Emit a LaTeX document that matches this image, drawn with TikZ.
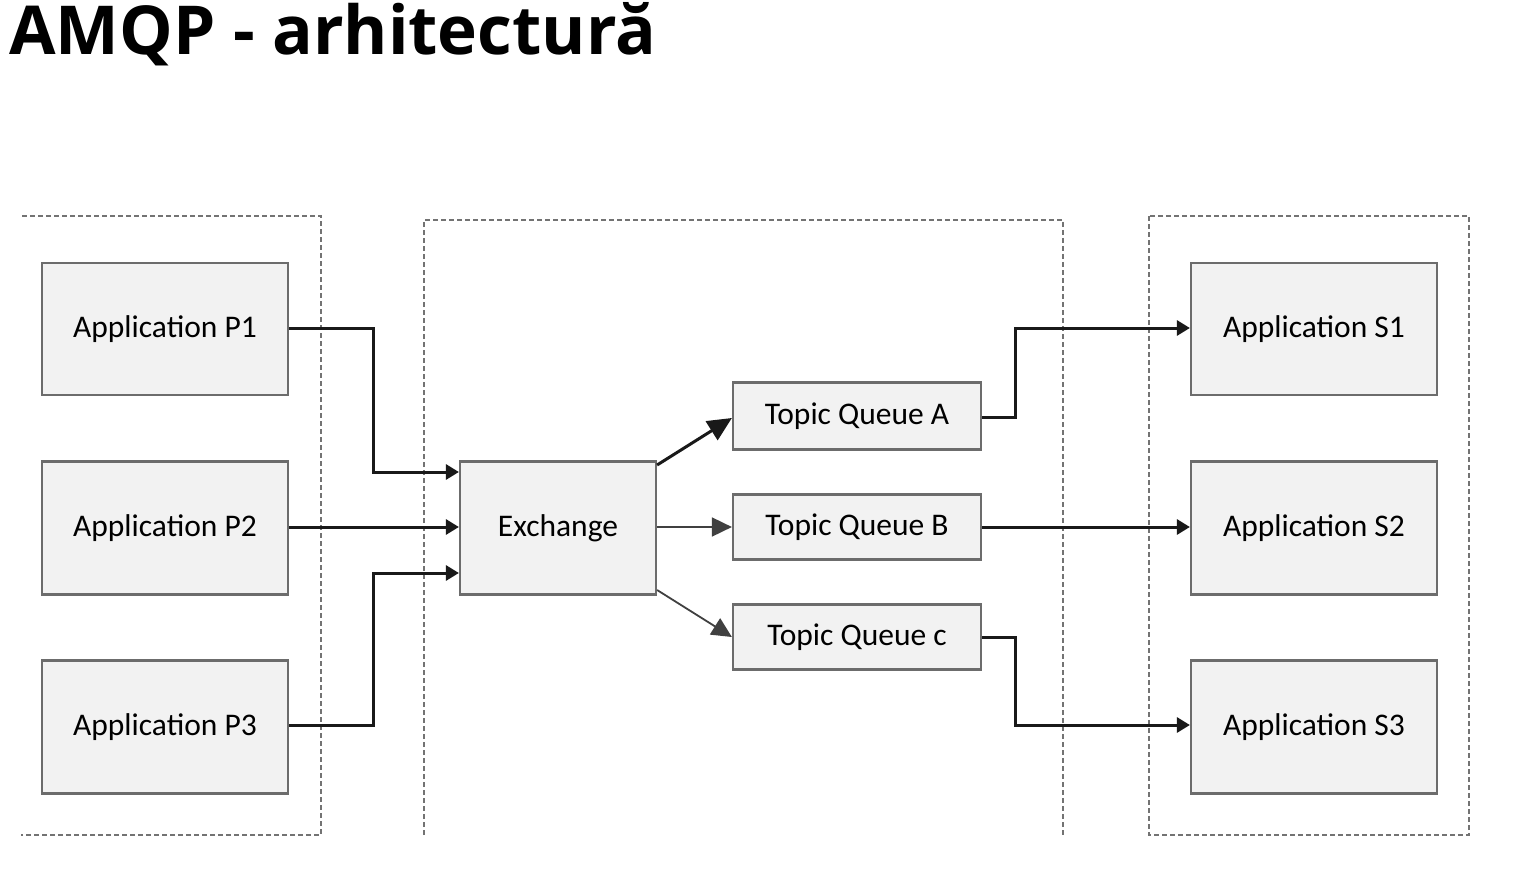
\documentclass[tikz,border=0pt]{standalone}
\usepackage{fontspec}
\setmainfont{Carlito}
\newfontfamily\titlefont{Open Sans}
\usetikzlibrary{arrows.meta}
\begin{document}
\begin{tikzpicture}[x=1pt,y=-1pt,
  box/.style={draw=gray!85!black,fill=black!5,line width=2.2pt,inner sep=0pt,font=\fontsize{31.5}{35}\selectfont},
  cont/.style={draw=black!55,line width=1.8pt,dash pattern=on 5pt off 3pt},
  conn/.style={draw=black!90,line width=3pt,-{Triangle[length=13pt,width=15pt]}},
  bigtip/.style={draw=black!90,line width=3pt,-{Triangle[length=24pt,width=22pt]}},
  thin/.style={draw=black!75,line width=1.8pt,-{Triangle[length=20pt,width=19pt]}}]
\useasboundingbox (0,0) rectangle (1516,880);
\node[anchor=base west,inner sep=0pt,font=\titlefont\bfseries\fontsize{67.5}{80}\selectfont] (title) at (9,55) {AMQP - arhitectură};
% containers
\draw[cont] (22,216) -- (321,216) -- (321,835) -- (21,835);
\draw[cont] (424,835) -- (424,220) -- (1063,220) -- (1063,835);
\draw[cont] (1149,216) rectangle (1469,835);
% boxes
\node[box,minimum width=246pt,minimum height=132pt] (p1) at (165,329) {Application P1};
\node[box,minimum width=246pt,minimum height=133pt] (p2) at (165,528) {Application P2};
\node[box,minimum width=246pt,minimum height=133pt] (p3) at (165,727) {Application P3};
\node[box,minimum width=196pt,minimum height=133pt] (ex) at (558,528) {Exchange};
\node[box,minimum width=248pt,minimum height=67pt] (qa) at (857,416) {Topic Queue A};
\node[box,minimum width=248pt,minimum height=65pt] (qb) at (857,527) {Topic Queue B};
\node[box,minimum width=248pt,minimum height=65pt] (qc) at (857,637) {Topic Queue c};
\node[box,minimum width=246pt,minimum height=132pt] (s1) at (1314,329) {Application S1};
\node[box,minimum width=246pt,minimum height=133pt] (s2) at (1314,528) {Application S2};
\node[box,minimum width=246pt,minimum height=133pt] (s3) at (1314,727) {Application S3};
% connectors
\draw[conn] (p1.east |- 0,328) -- (373,328) -- (373,472) -- (ex.west |- 0,472);
\draw[conn] (p2.east |- 0,527) -- (ex.west |- 0,527);
\draw[conn] (p3.east |- 0,725) -- (373,725) -- (373,573) -- (ex.west |- 0,573);
\draw[bigtip] (ex.east |- 0,465) -- (qa.west |- 0,418);
\draw[thin] (ex.east |- 0,527) -- (qb.west |- 0,527);
\draw[thin] (ex.east |- 0,590) -- (qc.west |- 0,637);
\draw[conn] (qa.east |- 0,417) -- (1015,417) -- (1015,328) -- (s1.west |- 0,328);
\draw[conn] (qb.east |- 0,527) -- (s2.west |- 0,527);
\draw[conn] (qc.east |- 0,637) -- (1015,637) -- (1015,725) -- (s3.west |- 0,725);
\end{tikzpicture}
\end{document}
